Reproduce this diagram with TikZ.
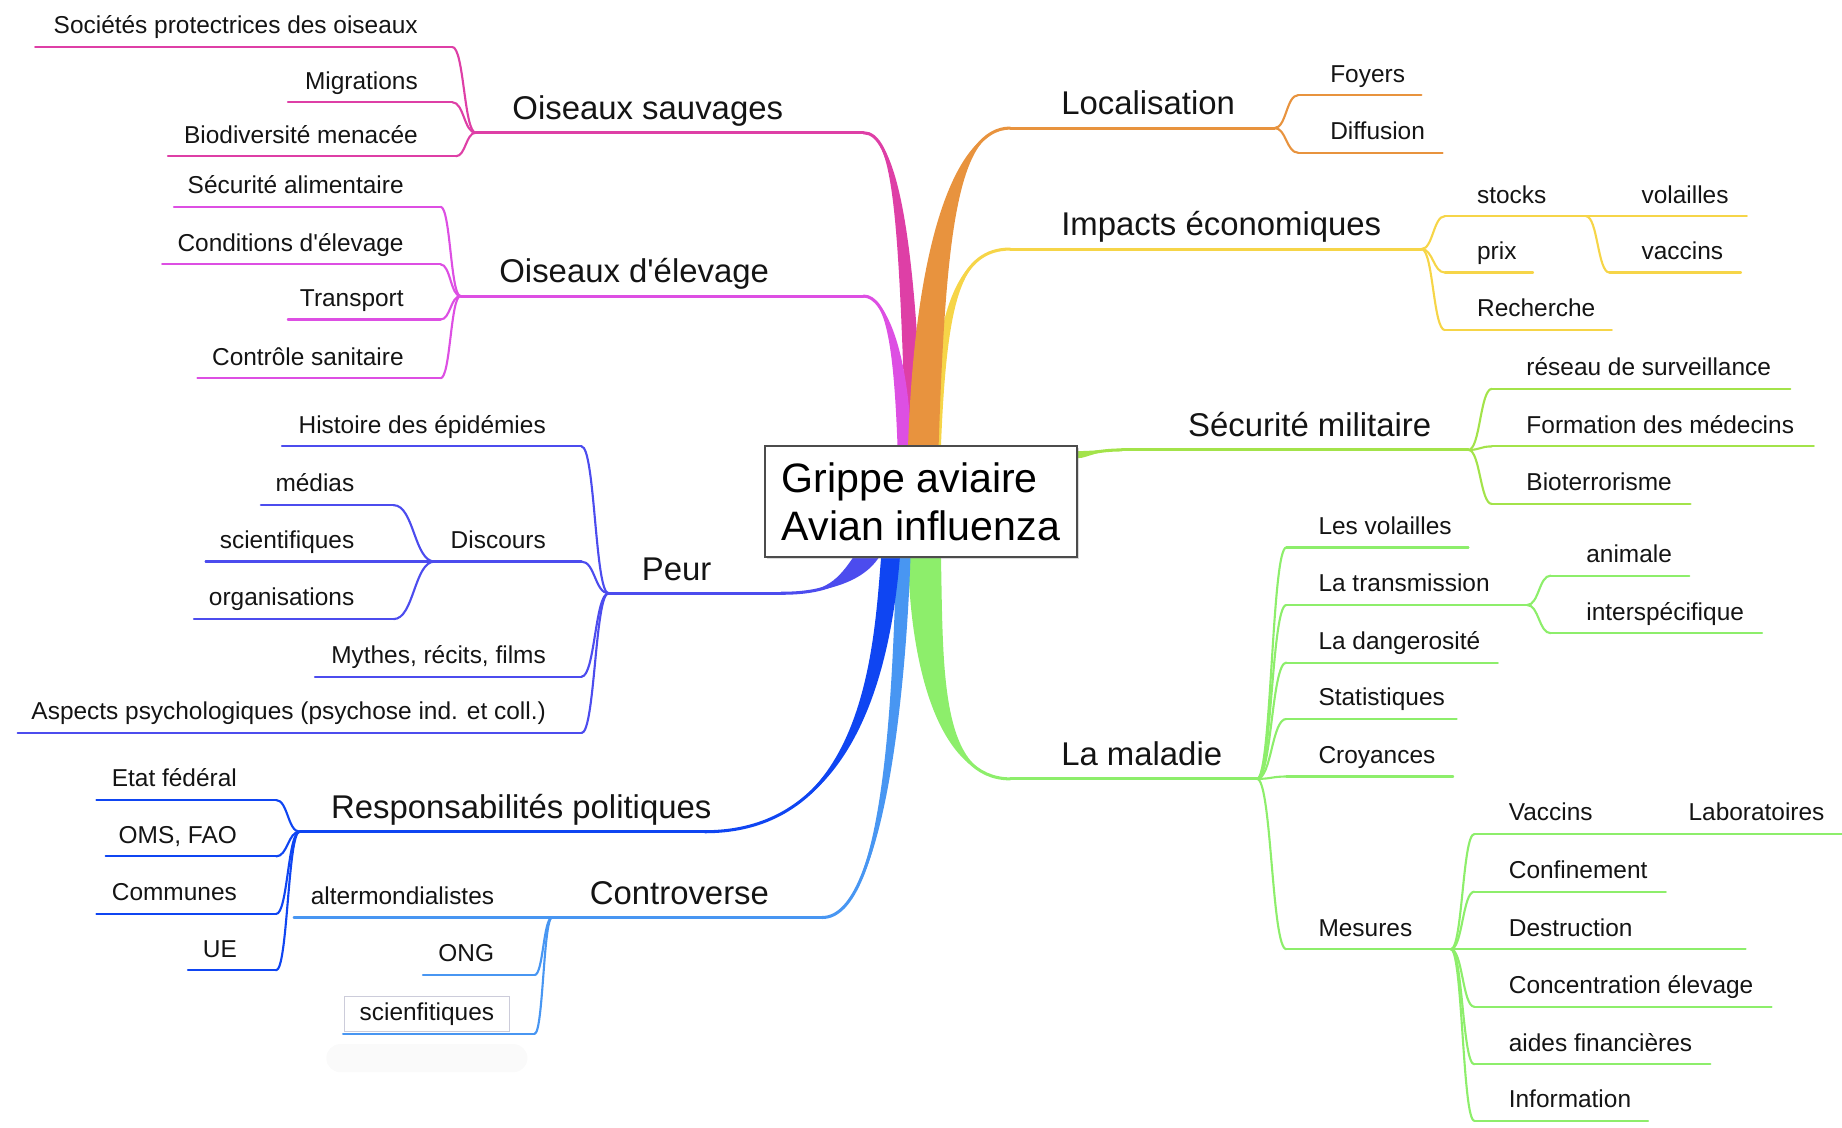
\documentclass[tikz,border=0pt]{standalone}
\usepackage{fontspec}
\newfontfamily\mapfont{Liberation Sans}
\usepackage{tikz}
\usetikzlibrary{calc,backgrounds,shadows}
\definecolor{WildPink}{HTML}{DE3FA6}
\definecolor{FarmViolet}{HTML}{DD4FE3}
\definecolor{PlaceOrange}{HTML}{E8933E}
\definecolor{EcoYellow}{HTML}{F6D548}
\definecolor{ArmyLime}{HTML}{A3E34A}
\definecolor{IllGreen}{HTML}{8DEE6B}
\definecolor{FearIndigo}{HTML}{4C4CEE}
\definecolor{PolBlue}{HTML}{0F45F2}
\definecolor{DebateSky}{HTML}{4896F2}
\definecolor{Mist}{HTML}{CCCCDA}
\newcommand{\leaf}[8][rtxt]{%
  \coordinate (#2-w) at (#4,#6);
  \coordinate (#2-e) at (#5,#6);
  \draw[twig,#3] (#2-w) -- (#2-e);
  \node[#1] (#2) at (#7,#6) {#8};}
\newcommand{\bough}[8][rtop]{%
  \coordinate (#2-w) at (#4,#6);
  \coordinate (#2-e) at (#5,#6);
  \draw[limb,#3] (#2-w) -- (#2-e);
  \node[#1] (#2) at (#7,#6) {#8};}
\newcommand{\ribbon}[6]{%
  \fill[#1] (#2) .. controls (#3) and ($(#4)+(#6)$) .. ($(#5)+(#6)$)
    -- ($(#5)-(#6)$) .. controls ($(#4)-(#6)$) and (#3) .. (#2) -- cycle;
  \draw[limb,#1] (#2) .. controls (#3) and (#4) .. (#5);}
\tikzset{
  lbl/.style={font=\mapfont\fontsize{10.4}{12.5}\selectfont,inner sep=0pt,yshift=5.6pt,text=black!92},
  ltxt/.style={lbl,anchor=base east},
  rtxt/.style={lbl,anchor=base west},
  toplbl/.style={font=\mapfont\fontsize{14}{16}\selectfont,inner sep=0pt,yshift=5.6pt,text=black!92},
  ltop/.style={toplbl,anchor=base east},
  rtop/.style={toplbl,anchor=base west},
  boxed/.style={draw=Mist,fill=white,inner xsep=6.5pt,inner ysep=2.6pt},
  twig/.style={line width=0.9pt,line cap=round},
  limb/.style={line width=1.3pt,line cap=round},
  link/.style={twig,to path={let \p1=(\tikztostart),\p2=(\tikztotarget) in
      .. controls ({0.5*\x1+0.5*\x2},\y1) and ({0.5*\x1+0.5*\x2},\y2) .. (\tikztotarget)}},
  hubbox/.style={draw=black!70,line width=0.8pt,fill=white,
      font=\mapfont\fontsize{17.5}{20.5}\selectfont,align=left,
      minimum width=133pt,minimum height=47pt,inner sep=0pt,
      drop shadow={shadow xshift=0.8pt,shadow yshift=-0.8pt,opacity=0.3}}
}
\begin{document}
\begin{tikzpicture}[x=0.5pt,y=-0.5pt]
  \useasboundingbox (0,0) rectangle (1568,960);
  \node[hubbox] (hub) at (784,427) {Grippe aviaire\\Avian influenza};

  \bough[ltop]{sauv}{WildPink}{405}{735}{113}{667}{Oiseaux sauvages}
  \leaf[ltxt]{spo}{WildPink}{30}{385}{40}{356}{Sociétés protectrices des oiseaux}
  \leaf[ltxt]{migr}{WildPink}{245}{385}{87}{356}{Migrations}
  \leaf[ltxt]{biod}{WildPink}{143}{388}{133}{356}{Biodiversité menacée}
  \draw[link,WildPink] (spo-e) to (sauv-w);
  \draw[link,WildPink] (migr-e) to (sauv-w);
  \draw[link,WildPink] (biod-e) to (sauv-w);

  \bough[ltop]{elev}{FarmViolet}{392}{735}{252}{655}{Oiseaux d'élevage}
  \leaf[ltxt]{secu}{FarmViolet}{148}{375}{176}{344}{Sécurité alimentaire}
  \leaf[ltxt]{cond}{FarmViolet}{138}{375}{225}{344}{Conditions d'élevage}
  \leaf[ltxt]{trans}{FarmViolet}{245}{375}{272}{344}{Transport}
  \leaf[ltxt]{ctrl}{FarmViolet}{168}{375}{322}{344}{Contrôle sanitaire}
  \draw[link,FarmViolet] (secu-e) to (elev-w);
  \draw[link,FarmViolet] (cond-e) to (elev-w);
  \draw[link,FarmViolet] (trans-e) to (elev-w);
  \draw[link,FarmViolet] (ctrl-e) to (elev-w);

  \bough[ltop]{peur}{FearIndigo}{518}{665}{505}{606}{Peur}
  \leaf[ltxt]{hist}{FearIndigo}{240}{495}{380}{465}{Histoire des épidémies}
  \leaf[ltxt]{disc}{FearIndigo}{370}{495}{478}{465}{Discours}
  \leaf[ltxt]{medi}{FearIndigo}{222}{335}{430}{302}{médias}
  \leaf[ltxt]{scie}{FearIndigo}{175}{350}{478}{302}{scientifiques}
  \leaf[ltxt]{orga}{FearIndigo}{165}{335}{527}{302}{organisations}
  \leaf[ltxt]{myth}{FearIndigo}{268}{495}{576}{465}{Mythes, récits, films}
  \leaf[ltxt]{psy}{FearIndigo}{15}{495}{624}{465}{Aspects psychologiques (psychose ind. et coll.)}
  \draw[link,FearIndigo] (hist-e) to (peur-w);
  \draw[link,FearIndigo] (disc-e) to (peur-w);
  \draw[link,FearIndigo] (myth-e) to (peur-w);
  \draw[link,FearIndigo] (psy-e) to (peur-w);
  \draw[link,FearIndigo] (medi-e) to (disc-w);
  \draw[link,FearIndigo] (scie-e) to (disc-w);
  \draw[link,FearIndigo] (orga-e) to (disc-w);

  \bough[ltop]{resp}{PolBlue}{255}{600}{708}{606}{Responsabilités politiques}
  \leaf[ltxt]{etat}{PolBlue}{82}{235}{681}{202}{Etat fédéral}
  \leaf[ltxt]{oms}{PolBlue}{90}{235}{729}{202}{OMS, FAO}
  \leaf[ltxt]{comm}{PolBlue}{82}{235}{778}{202}{Communes}
  \leaf[ltxt]{ue}{PolBlue}{160}{235}{826}{202}{UE}
  \draw[link,PolBlue] (etat-e) to (resp-w);
  \draw[link,PolBlue] (oms-e) to (resp-w);
  \draw[link,PolBlue] (comm-e) to (resp-w);
  \draw[link,PolBlue] (ue-e) to (resp-w);

  \bough[ltop]{contro}{DebateSky}{470}{700}{781}{655}{Controverse}
  \leaf[ltxt]{alter}{DebateSky}{250}{470}{781}{421}{altermondialistes}
  \leaf[ltxt]{ong}{DebateSky}{360}{455}{830}{421}{ONG}
  \leaf[ltxt,boxed]{sfq}{DebateSky}{292}{455}{880}{434}{scienfitiques}
  \draw[link,DebateSky] (ong-e) to (contro-w);
  \draw[link,DebateSky] (sfq-e) to (contro-w);

  \bough{loc}{PlaceOrange}{860}{1085}{109}{903}{Localisation}
  \leaf{foy}{PlaceOrange}{1105}{1210}{81}{1132}{Foyers}
  \leaf{diff}{PlaceOrange}{1105}{1228}{130}{1132}{Diffusion}
  \draw[link,PlaceOrange] (loc-e) to (foy-w);
  \draw[link,PlaceOrange] (loc-e) to (diff-w);

  \bough{eco}{EcoYellow}{860}{1210}{212}{903}{Impacts économiques}
  \leaf{stock}{EcoYellow}{1230}{1350}{184}{1257}{stocks}
  \leaf{vola}{EcoYellow}{1350}{1487}{184}{1397}{volailles}
  \leaf{vacc}{EcoYellow}{1370}{1482}{232}{1397}{vaccins}
  \leaf{prix}{EcoYellow}{1230}{1305}{232}{1257}{prix}
  \leaf{rech}{EcoYellow}{1230}{1372}{281}{1257}{Recherche}
  \draw[link,EcoYellow] (eco-e) to (stock-w);
  \draw[link,EcoYellow] (eco-e) to (prix-w);
  \draw[link,EcoYellow] (eco-e) to (rech-w);
  \draw[link,EcoYellow] (stock-e) to (vacc-w);

  \bough{mil}{ArmyLime}{955}{1250}{383}{1011}{Sécurité militaire}
  \leaf{res}{ArmyLime}{1270}{1524}{331}{1299}{réseau de surveillance}
  \leaf{form}{ArmyLime}{1270}{1544}{380}{1299}{Formation des médecins}
  \leaf{bio}{ArmyLime}{1270}{1439}{429}{1299}{Bioterrorisme}
  \draw[link,ArmyLime] (mil-e) to (res-w);
  \draw[link,ArmyLime] (mil-e) to (form-w);
  \draw[link,ArmyLime] (mil-e) to (bio-w);

  \bough{mal}{IllGreen}{860}{1070}{663}{903}{La maladie}
  \leaf{lvol}{IllGreen}{1095}{1250}{466}{1122}{Les volailles}
  \leaf{ltr}{IllGreen}{1095}{1300}{515}{1122}{La transmission}
  \leaf{anim}{IllGreen}{1320}{1438}{490}{1350}{animale}
  \leaf{intr}{IllGreen}{1320}{1500}{539}{1350}{interspécifique}
  \leaf{dang}{IllGreen}{1095}{1275}{564}{1122}{La dangerosité}
  \leaf{stat}{IllGreen}{1095}{1240}{612}{1122}{Statistiques}
  \leaf{croy}{IllGreen}{1095}{1237}{661}{1122}{Croyances}
  \leaf{mes}{IllGreen}{1095}{1235}{808}{1122}{Mesures}
  \leaf{mvac}{IllGreen}{1255}{1425}{710}{1284}{Vaccins}
  \leaf{labo}{IllGreen}{1425}{1568}{710}{1437}{Laboratoires}
  \leaf{conf}{IllGreen}{1255}{1418}{759}{1284}{Confinement}
  \leaf{dest}{IllGreen}{1235}{1486}{808}{1284}{Destruction}
  \leaf{conc}{IllGreen}{1255}{1508}{857}{1284}{Concentration élevage}
  \leaf{aide}{IllGreen}{1255}{1456}{906}{1284}{aides financières}
  \leaf{info}{IllGreen}{1255}{1403}{954}{1284}{Information}
  \draw[link,IllGreen] (mal-e) to (lvol-w);
  \draw[link,IllGreen] (mal-e) to (ltr-w);
  \draw[link,IllGreen] (mal-e) to (dang-w);
  \draw[link,IllGreen] (mal-e) to (stat-w);
  \draw[link,IllGreen] (mal-e) to (croy-w);
  \draw[link,IllGreen] (mal-e) to (mes-w);
  \draw[link,IllGreen] (ltr-e) to (anim-w);
  \draw[link,IllGreen] (ltr-e) to (intr-w);
  \draw[link,IllGreen] (mes-e) to (mvac-w);
  \draw[link,IllGreen] (mes-e) to (conf-w);
  \draw[link,IllGreen] (mes-e) to (conc-w);
  \draw[link,IllGreen] (mes-e) to (aide-w);
  \draw[link,IllGreen] (mes-e) to (info-w);

  \coordinate (sauv-root) at ($(hub.north)+(-6,0)$);
  \coordinate (elev-root) at ($(hub.north)+(-14,0)$);
  \coordinate (loc-root) at ($(hub.north)+(2,0)$);
  \coordinate (eco-root) at ($(hub.north)+(12,0)$);
  \coordinate (mil-root) at ($(hub.east)+(0,-40)$);
  \coordinate (peur-root) at ($(hub.south)+(-47,0)$);
  \coordinate (resp-root) at ($(hub.south)+(-26,0)$);
  \coordinate (contro-root) at ($(hub.south)+(-15,0)$);
  \coordinate (mal-root) at ($(hub.south)+(3,0)$);
  \begin{pgfonlayer}{background}
    \fill[black!2,rounded corners=6pt] ($(sfq.south west)+(-15,10)$) rectangle ($(sfq.south east)+(15,34)$);
    \ribbon{WildPink}{sauv-e}{760,113}{772,180}{sauv-root}{7,0}
    \ribbon{FarmViolet}{elev-e}{755,252}{767,300}{elev-root}{6,0}
    \ribbon{EcoYellow}{eco-w}{818,212}{801,255}{eco-root}{5,0}
    \ribbon{PlaceOrange}{loc-w}{815,109}{792,200}{loc-root}{13,0}
    \ribbon{ArmyLime}{mil-w}{935,383}{925,387}{mil-root}{0,3}
    \ribbon{IllGreen}{mal-w}{800,663}{789,570}{mal-root}{14,0}
    \ribbon{DebateSky}{contro-e}{755,781}{766,570}{contro-root}{6,0}
    \ribbon{PolBlue}{resp-e}{738,708}{752,545}{resp-root}{8,0}
    \ribbon{FearIndigo}{peur-e}{700,505}{722,497}{peur-root}{11,0}
  \end{pgfonlayer}
\end{tikzpicture}
\end{document}
